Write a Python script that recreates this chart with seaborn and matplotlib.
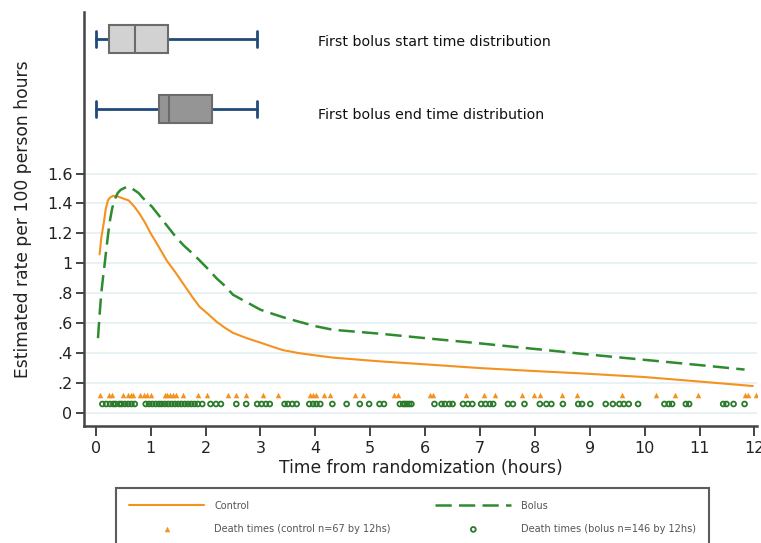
import numpy as np
import pandas as pd
import matplotlib
matplotlib.use("Agg")
import matplotlib.pyplot as plt
import seaborn as sns

sns.set_style("white")
plt.rcParams['font.family'] = ['DejaVu Sans']

# estimated hazard curves (hours, rate per 100 person hours)
control_t = [0.07, 0.1, 0.15, 0.18, 0.22, 0.26, 0.31, 0.38, 0.45, 0.6, 0.7, 0.8, 0.9, 1.0,
             1.1, 1.29, 1.45, 1.6, 1.75, 1.89, 2.05, 2.2, 2.35, 2.5, 2.75, 3.0, 3.2, 3.41,
             3.7, 4.0, 4.32, 5.17, 6.0, 7.0, 8.0, 8.82, 10.0, 11.0, 11.97]
control_rate = [1.06, 1.17, 1.28, 1.36, 1.42, 1.44, 1.45, 1.45, 1.44, 1.42, 1.38, 1.33, 1.27,
                1.20, 1.14, 1.02, 0.94, 0.86, 0.78, 0.71, 0.66, 0.61, 0.57, 0.535, 0.50, 0.47,
                0.445, 0.42, 0.40, 0.385, 0.37, 0.345, 0.325, 0.30, 0.28, 0.265, 0.24, 0.21,
                0.18]
bolus_t = [0.04, 0.07, 0.1, 0.13, 0.16, 0.2, 0.25, 0.3, 0.35, 0.4, 0.45, 0.5, 0.56, 0.62,
           0.7, 0.78, 0.85, 0.93, 1.02, 1.15, 1.3, 1.45, 1.6, 1.75, 1.89, 2.05, 2.2, 2.35,
           2.5, 2.75, 3.0, 3.2, 3.41, 3.7, 4.0, 4.32, 5.17, 6.0, 7.0, 8.21, 9.0, 10.0, 11.0,
           11.82]
bolus_rate = [0.50, 0.66, 0.80, 0.90, 0.99, 1.12, 1.27, 1.37, 1.43, 1.47, 1.49, 1.50, 1.51,
              1.51, 1.49, 1.47, 1.44, 1.41, 1.38, 1.32, 1.25, 1.18, 1.12, 1.07, 1.02, 0.96,
              0.90, 0.85, 0.79, 0.74, 0.69, 0.665, 0.64, 0.61, 0.58, 0.556, 0.53, 0.50, 0.465,
              0.42, 0.39, 0.355, 0.32, 0.29]

# death times
control_deaths = [0.085, 0.24, 0.29, 0.49, 0.59, 0.64, 0.68, 0.80, 0.87, 0.93, 1.0, 1.26, 1.30,
                  1.35, 1.41, 1.46, 1.58, 1.86, 2.02, 2.41, 2.56, 2.73, 3.04, 3.32, 3.90, 3.95,
                  4.01, 4.15, 4.27, 4.72, 4.86, 5.43, 5.51, 6.08, 6.14, 6.74, 7.07, 7.27, 7.77,
                  7.98, 8.10, 8.50, 8.76, 9.59, 10.21, 10.55, 10.97, 11.82, 11.88, 12.03]
bolus_deaths = [0.12, 0.19, 0.26, 0.32, 0.36, 0.43, 0.47, 0.53, 0.59, 0.65, 0.71, 0.91, 0.97,
                1.03, 1.09, 1.15, 1.20, 1.26, 1.32, 1.38, 1.44, 1.50, 1.56, 1.62, 1.68, 1.74,
                1.80, 1.86, 1.94, 2.09, 2.19, 2.28, 2.56, 2.74, 2.94, 3.02, 3.10, 3.17, 3.44,
                3.50, 3.58, 3.66, 3.89, 3.96, 4.02, 4.09, 4.31, 4.57, 4.81, 4.98, 5.17, 5.25,
                5.54, 5.63, 5.71, 5.60, 5.67, 5.75, 6.17, 6.30, 6.36, 6.44, 6.50, 6.69, 6.78,
                6.86, 7.02, 7.10, 7.18, 7.24, 7.51, 7.60, 7.81, 8.09, 8.21, 8.30, 8.51, 8.79,
                8.86, 9.01, 9.29, 9.42, 9.54, 9.62, 9.71, 9.88, 10.36, 10.44, 10.50, 10.75,
                10.81, 11.43, 11.49, 11.62, 11.82]

# first bolus timing boxes: whisker lo, q1, median, q3, whisker hi
box_labels = ["First bolus start time distribution", "First bolus end time distribution"]
box_whislo = [0.0, 0.0]
box_q1 = [0.24, 1.15]
box_med = [0.71, 1.335]
box_q3 = [1.32, 2.11]
box_whishi = [2.945, 2.945]
box_fill = ["#d2d2d2", "#959595"]

yticks = [0, 0.2, 0.4, 0.6, 0.8, 1.0, 1.2, 1.4, 1.6]
ytick_labels = ["0", ".2", ".4", ".6", ".8", "1", "1.2", "1.4", "1.6"]
xticks = list(range(13))

orange = "#f5921e"
green = "#2e8b2e"

fig = plt.figure(figsize=(7.61, 5.43), dpi=100)
ax = fig.add_axes([0.110, 0.2155, 0.885, 0.7625])

ax.set_yticks(yticks)
ax.set_yticklabels(ytick_labels)
ax.set_xticks(xticks)
ax.yaxis.grid(True, color="#e6f0f2", linewidth=1.3)
ax.set_axisbelow(True)

sns.lineplot(x=control_t, y=control_rate, color=orange, linewidth=1.5, ax=ax, label="Control")
sns.lineplot(x=bolus_t, y=bolus_rate, color=green, linewidth=1.8, ax=ax, label="Bolus",
             linestyle=(0, (6.5, 2.9)))

sns.scatterplot(x=control_deaths, y=np.full(len(control_deaths), 0.12), marker="^",
                color=orange, s=16, linewidth=0, ax=ax,
                label="Death times (control n=67 by 12hs)")
sns.scatterplot(x=bolus_deaths, y=np.full(len(bolus_deaths), 0.06), marker="o",
                facecolor="none", edgecolor="#2a7a2a", s=12, linewidth=1.3, ax=ax,
                label="Death times (bolus n=146 by 12hs)")

stats = []
for i in range(len(box_labels)):
    stats.append({"whislo": box_whislo[i], "q1": box_q1[i], "med": box_med[i],
                  "q3": box_q3[i], "whishi": box_whishi[i], "fliers": []})
bp = ax.bxp(stats, positions=[2.50, 2.03], widths=0.19, capwidths=0.11,
            orientation="horizontal", patch_artist=True, showfliers=False, manage_ticks=False,
            boxprops=dict(edgecolor="#6b6b6b", linewidth=1.5),
            medianprops=dict(color="#6b6b6b", linewidth=1.5),
            whiskerprops=dict(color="#1f4a7a", linewidth=2),
            capprops=dict(color="#1f4a7a", linewidth=2))
for patch, c in zip(bp["boxes"], box_fill):
    patch.set_facecolor(c)
    patch.set_zorder(3)
for med in bp["medians"]:
    med.set_zorder(4)
for lab, pos in zip(box_labels, [2.48, 1.99]):
    ax.text(4.04, pos, lab, fontsize=10.2, color="#111111", va="center", ha="left")

ax.set_xlim(-0.22, 12.05)
ax.set_ylim(-0.087, 2.68)

for s in ["top", "right"]:
    ax.spines[s].set_visible(False)
for s in ["left", "bottom"]:
    ax.spines[s].set_color("#444444")
    ax.spines[s].set_linewidth(1.8)
ax.tick_params(axis="y", which="major", left=True, length=6, width=1.4, color="#444444",
               labelsize=11.5, pad=2, labelcolor="#222222")
ax.tick_params(axis="x", which="major", bottom=True, length=7, width=1.4, color="#444444",
               labelsize=11.5, pad=4, labelcolor="#222222")
ax.set_ylabel("Estimated rate per 100 person hours", fontsize=12.3, labelpad=11, color="#222222")
ax.set_xlabel("Time from randomization (hours)", fontsize=12.3, labelpad=2, color="#222222")

h, l = ax.get_legend_handles_labels()
ax.get_legend().remove()
order = [l.index("Control"), l.index("Death times (control n=67 by 12hs)"),
         l.index("Bolus"), l.index("Death times (bolus n=146 by 12hs)")]
leg = fig.legend([h[i] for i in order], [l[i] for i in order], ncol=2,
                 loc="upper left", bbox_to_anchor=(116 / 761, 1 - 488 / 543),
                 fontsize=7.0, handlelength=7.8, handletextpad=1.0, columnspacing=4.6,
                 borderpad=1.3, labelspacing=1.37, fancybox=False, frameon=True,
                 borderaxespad=0)
leg.get_frame().set_edgecolor("#333333")
leg.get_frame().set_linewidth(1.5)
for t in leg.get_texts():
    t.set_color("#555555")

fig.savefig("out.png", dpi=100)
